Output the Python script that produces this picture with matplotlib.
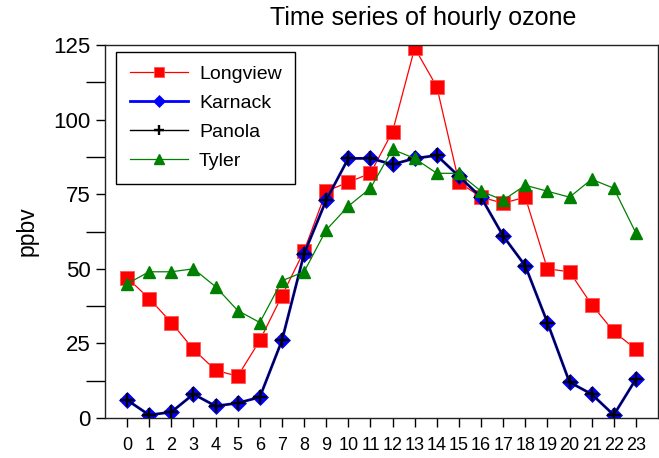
import matplotlib
matplotlib.use('Agg')
import matplotlib.pyplot as plt
from matplotlib.ticker import MultipleLocator

plt.rcParams['font.family'] = ['Liberation Sans', 'DejaVu Sans']

hours = list(range(24))
longview = [47, 40, 32, 23, 16, 14, 26, 41, 56, 76, 79, 82,
            96, 124, 111, 79, 74, 72, 74, 50, 49, 38, 29, 23]
karnack = [6, 1, 2, 8, 4, 5, 7, 26, 55, 73, 87, 87,
           85, 87, 88, 81, 74, 61, 51, 32, 12, 8, 1, 13]
panola = [6, 1, 2, 8, 4, 5, 7, 26, 55, 73, 87, 87,
          85, 87, 88, 81, 74, 61, 51, 32, 12, 8, 1, 13]
tyler = [45, 49, 49, 50, 44, 36, 32, 46, 49, 63, 71, 77,
         90, 87, 82, 82, 76, 73, 78, 76, 74, 80, 77, 62]

W, H = 659, 458
fig = plt.figure(figsize=(W / 100, H / 100), dpi=100)
ax = fig.add_axes([105 / W, (H - 418) / H, 553 / W, 373 / H])

ax.plot(hours, longview, color='red', lw=0.9, marker='s', ms=9.5,
        mfc='red', mec='#ff5555', mew=0.6, label='Longview')
ax.plot(hours, karnack, color='blue', lw=2.0, marker='D', ms=8,
        mfc='blue', mec='blue', mew=0.5, label='Karnack')
ax.plot(hours, panola, color='black', lw=1.0, marker='+', ms=9.5,
        mew=1.7, label='Panola')
ax.plot(hours, tyler, color='green', lw=0.9, marker='^', ms=9,
        mfc='green', mec='green', label='Tyler')

ax.set_xlim(-1, 24)
ax.set_ylim(0, 125)
ax.set_xticks(hours)
ax.yaxis.set_major_locator(MultipleLocator(25))
ax.yaxis.set_minor_locator(MultipleLocator(12.5))

ax.tick_params(axis='x', direction='out', length=6.5, width=1,
               labelsize=13, pad=7)
ax.tick_params(axis='y', which='major', direction='out', length=6.5,
               width=1, labelsize=16, pad=4)
ax.tick_params(axis='y', which='minor', direction='out', length=13.7,
               width=1)
for s in ax.spines.values():
    s.set_linewidth(1.0)
    s.set_color('#222222')

fig.text(27 / W, (H - 231.5) / H, 'ppbv', rotation=90, fontsize=16.5,
         ha='center', va='center')
fig.text(423.5 / W, 1 - 25 / H, 'Time series of hourly ozone',
         fontsize=18, ha='center', va='baseline')

leg = ax.legend(loc='upper left', bbox_to_anchor=(11 / 553, (418 - 52) / 373),
                borderaxespad=0, fontsize=14, handlelength=3.0,
                handletextpad=0.57, borderpad=0.7, labelspacing=0.58,
                markerscale=0.75, fancybox=False, framealpha=1,
                edgecolor='black', numpoints=1)
leg.get_frame().set_linewidth(1.0)

fig.savefig('out.png', dpi=100)
